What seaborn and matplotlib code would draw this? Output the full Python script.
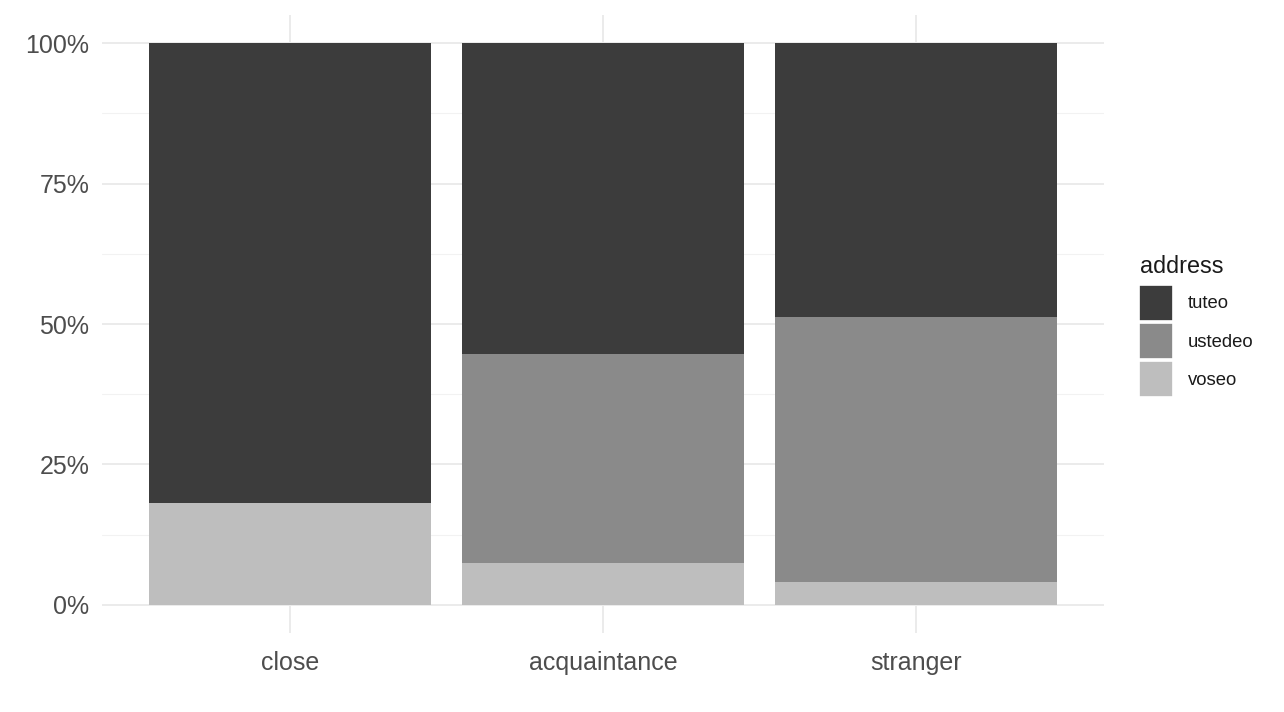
import matplotlib
matplotlib.use("Agg")
import matplotlib.pyplot as plt
import matplotlib.patches as mpatches
from matplotlib.ticker import FixedLocator
import seaborn as sns
import pandas as pd

# datos (porcentaje por categoria)
relaciones = ["close", "acquaintance", "stranger"]
formas = ["tuteo", "ustedeo", "voseo"]
voseo = [18.1, 7.4, 4.0]
ustedeo = [0.0, 37.2, 47.2]
tuteo = [81.9, 55.4, 48.8]
y_ticks = [0, 25, 50, 75, 100]
y_labels = ["0%", "25%", "50%", "75%", "100%"]

colores = {"tuteo": "#3c3c3c", "ustedeo": "#8a8a8a", "voseo": "#bebebe"}

sns.set_theme(style="white")
plt.rcParams["font.family"] = ["Liberation Sans", "DejaVu Sans"]

df = pd.DataFrame({"relacion": relaciones, "voseo": voseo,
                   "ustedeo": ustedeo, "tuteo": tuteo})
# alturas acumuladas para apilar
df["h_voseo"] = df["voseo"]
df["h_ustedeo"] = df["voseo"] + df["ustedeo"]
df["h_tuteo"] = df["voseo"] + df["ustedeo"] + df["tuteo"]

fig = plt.figure(figsize=(12.84, 7.12), dpi=100)
ax = fig.add_axes([102 / 1284, 79 / 712, 1002 / 1284, 618 / 712])

for forma in ["tuteo", "ustedeo", "voseo"]:
    sns.barplot(data=df, x="relacion", y="h_" + forma, order=relaciones,
                color=colores[forma], saturation=1, width=0.9,
                linewidth=0, ax=ax, zorder=2)

ax.set_xlim(-0.6, 2.6)
ax.set_ylim(-5, 105)
ax.set_xlabel("")
ax.set_ylabel("")

ax.yaxis.set_major_locator(FixedLocator(y_ticks))
ax.set_yticklabels(y_labels)
ax.yaxis.set_minor_locator(FixedLocator([12.5, 37.5, 62.5, 87.5]))
ax.grid(True, which="major", color="#ebebeb", linewidth=1.4, zorder=0)
ax.grid(True, which="minor", axis="y", color="#f2f2f2", linewidth=0.8, zorder=0)
ax.set_axisbelow(True)
for s in ax.spines.values():
    s.set_visible(False)
ax.tick_params(axis="both", which="both", length=0, labelsize=18,
               labelcolor="#4d4d4d")
ax.tick_params(axis="x", pad=13)
ax.tick_params(axis="y", pad=9)

# leyenda manual como en ggplot (titulo aparte)
handles = [mpatches.Patch(facecolor=colores[f], edgecolor="white", linewidth=1.2, label=f)
           for f in formas]
leg = fig.legend(handles=handles, loc="center left",
                 bbox_to_anchor=(1139 / 1284, 1 - 341 / 712), frameon=False,
                 fontsize=13.3, handlelength=1.85,
                 handleheight=2.65, labelspacing=0.1, handletextpad=0.8,
                 borderpad=0, borderaxespad=0)
for t in leg.get_texts():
    t.set_color("#1a1a1a")
fig.text(1140 / 1284, 1 - 273 / 712, "address", fontsize=16.8,
         color="#1a1a1a", ha="left", va="baseline")

fig.savefig("out.png", dpi=100, facecolor="white")
plt.close(fig)
